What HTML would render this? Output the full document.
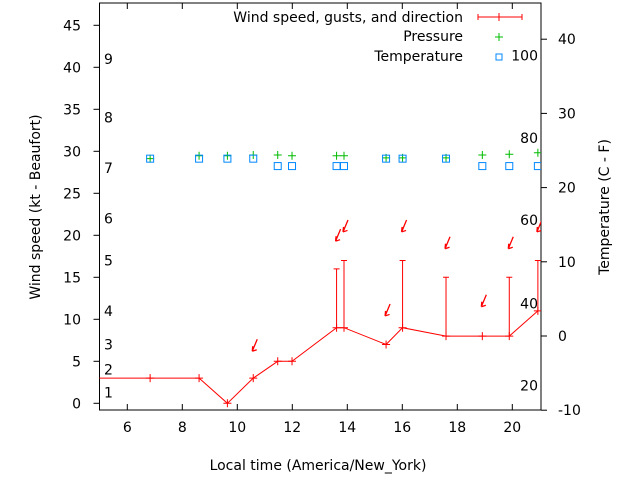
<!DOCTYPE html>
<html><head><meta charset="utf-8"><style>
body{margin:0;background:#fff}
svg{display:block;font-family:"DejaVu Sans","Liberation Sans",sans-serif}
</style></head><body>
<svg id="chart" width="640" height="480" viewBox="0 0 640 480">
<rect x="0" y="0" width="640" height="480" fill="#fff"/>
<g id="plot"></g>
</svg>
<script>
const times=[4.5,6.83,8.61,9.64,10.58,11.47,11.99,13.61,13.88,15.41,16.01,17.59,18.91,19.89,20.93];
const wind=[3,3,3,0,3,5,5,9,9,7,9,8,8,8,11];
const gustTimes=[13.61,13.88,16.01,17.59,19.89,20.93];
const gustBase=[9,9,9,8,8,11];
const gustVals=[16,17,17,15,15,17];
const arrowTimes=[10.58,13.61,13.88,15.41,16.01,17.59,18.91,19.89,20.93];
const arrowVals=[6.2,19.3,20.4,10.4,20.4,18.4,11.5,18.4,20.4];
const obsTimes=[6.83,8.61,9.64,10.58,11.47,11.99,13.61,13.88,15.41,16.01,17.59,18.91,19.89,20.93];
const tempC=[23.9,23.9,23.9,23.9,22.9,22.9,22.9,22.9,23.9,23.9,23.9,22.9,22.9,22.9];
const pressScaled=[23.9,24.3,24.3,24.4,24.4,24.3,24.3,24.3,24.0,24.0,24.0,24.4,24.5,24.7];
const xTicks=[6,8,10,12,14,16,18,20];
const yTicks=[0,5,10,15,20,25,30,35,40,45];
const y2Ticks=[-10,0,10,20,30,40];
const beaufort=[[1,1.3],[2,4],[3,7],[4,11],[5,17],[6,22],[7,28],[8,34],[9,41]];
const fLabels=[[20,-6.7],[40,4.4],[60,15.6],[80,26.7],[100,37.8]];

const L=99.5,R=541,T=3,B=410;
const X=t=>99.8+(t-5)*27.5;
const Y=v=>403.3-v*8.4;
const Y2=c=>336-c*7.42;
const NS="http://www.w3.org/2000/svg";
const g=document.getElementById('plot');
function mk(tag,attrs,parent){const e=document.createElementNS(NS,tag);for(const k in attrs)e.setAttribute(k,attrs[k]);(parent||g).appendChild(e);return e;}
function txt(x,y,s,anchor,extra){const e=mk('text',Object.assign({x:x,y:y,'font-size':14,'text-anchor':anchor||'start',fill:'#000'},extra||{}));e.textContent=s;return e;}

const defs=mk('defs',{});
const cp=mk('clipPath',{id:'clip'},defs);
mk('rect',{x:L,y:T,width:R-L,height:B-T},cp);

const frame=mk('rect',{x:L,y:T,width:R-L,height:B-T,fill:'none',stroke:'#000','stroke-width':1});



xTicks.forEach(t=>{
  const x=X(t);
  const tk=mk('line',{x1:x,x2:x,y1:B,y2:B-6,stroke:'#000'});
  
  
  mk('line',{x1:x,x2:x,y1:T,y2:T+6,stroke:'#000'});
  const l=txt(x,B+22,String(t),'middle');
  
  
});
yTicks.forEach(v=>{
  const y=Y(v);
  const tk=mk('line',{x1:L-6,x2:L,y1:y,y2:y,stroke:'#000'});
  
  
  const l=txt(81,y+5,String(v),'end');
  
  
});
y2Ticks.forEach(v=>{
  const y=Y2(v);
  const tk=mk('line',{x1:R,x2:R+6,y1:y,y2:y,stroke:'#000'});
  
  
  const l=txt(558,y+5,String(v),'start');
  
  
});
beaufort.forEach(([n,v])=>{
  const l=txt(104,Y(v)+5,String(n),'start');
  
  
});
fLabels.forEach(([f,c])=>{
  const l=txt(538,Y2(c)+5,String(f),'end');
  
  
});

const xt=txt(318,470,'Local time (America/New_York)','middle');


const yt=txt(0,0,'Wind speed (kt - Beaufort)','middle',{transform:'translate(40,207) rotate(-90)'});


const y2t=txt(0,0,'Temperature (C - F)','middle',{transform:'translate(609,207) rotate(-90)'});



const pg=mk('g',{'clip-path':'url(#clip)'});
const pts=times.map((t,i)=>X(t)+','+Y(wind[i])).join(' ');
const wl=mk('polyline',{points:pts,fill:'none',stroke:'#f00','stroke-width':1},pg);


times.forEach((t,i)=>{
  const x=X(t),y=Y(wind[i]);
  const p=mk('path',{d:`M${x-4},${y}H${x+4}M${x},${y-4}V${y+4}`,stroke:'#f00'},pg);
  
  
});
gustTimes.forEach((t,i)=>{
  const x=X(t),y0=Y(gustBase[i]),y1=Y(gustVals[i]);
  const p=mk('path',{d:`M${x},${y0}V${y1}M${x-3},${y1}H${x+3}`,stroke:'#f00','stroke-width':1},pg);
  
  
});
arrowTimes.forEach((t,i)=>{
  const x=X(t)-1,y=Y(arrowVals[i]);
  const p=mk('path',{d:`M${x+5},${y-12}L${x},${y}M${x},${y}l0.5,-5M${x},${y}l4.5,-1.5`,stroke:'#f00','stroke-width':1.3,fill:'none'},pg);
  
  
});
obsTimes.forEach((t,i)=>{
  const x=X(t),y=Y2(pressScaled[i]);
  const p=mk('path',{d:`M${x-4},${y}H${x+4}M${x},${y-4}V${y+4}`,stroke:'#0b0'},pg);
  
  
});
obsTimes.forEach((t,i)=>{
  const x=X(t),y=Y2(tempC[i]);
  const p=mk('rect',{x:x-3.5,y:y-3.5,width:7,height:7,fill:'none',stroke:'#08f','stroke-width':1},pg);
  
  
});

const l1=txt(463,22,'Wind speed, gusts, and direction','end');


mk('path',{d:'M478,17H522M478,14V20M522,14V20M499,13V21',stroke:'#f00'});
const l2=txt(463,41,'Pressure','end');


mk('path',{d:'M495,37H503M499,33V41',stroke:'#0b0'});
const l3=txt(463,61,'Temperature','end');


mk('rect',{x:496,y:54,width:6,height:6,fill:'none',stroke:'#08f'});
</script>
</body></html>
